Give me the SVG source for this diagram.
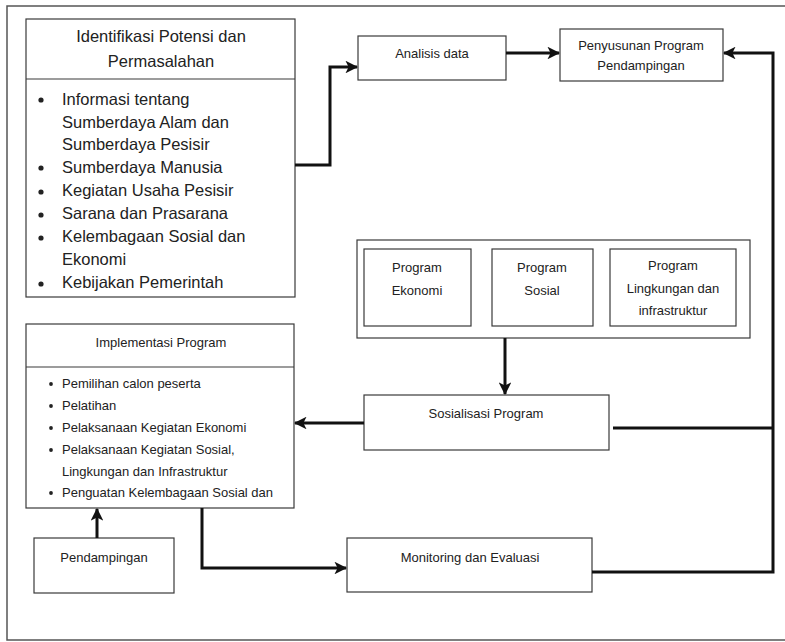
<svg xmlns="http://www.w3.org/2000/svg" width="785" height="642" viewBox="0 0 785 642">
<style>
.box{fill:#fff;stroke:#3a3a3a;stroke-width:1.2}
.t{font-family:"Liberation Sans",Arial,sans-serif;fill:#222;font-size:13px}
.tl{font-family:"Liberation Sans",Arial,sans-serif;fill:#222;font-size:16.5px}
.c{text-anchor:middle}
.con{fill:none;stroke:#111;stroke-width:3;stroke-linejoin:miter}
.dot{fill:#222}
</style>
<defs>
<marker id="ah" viewBox="0 0 12 12" refX="11" refY="6" markerWidth="4.2" markerHeight="4.2" orient="auto" markerUnits="strokeWidth">
<path d="M0,0 L12,6 L0,12 L3,6 Z" fill="#111"/>
</marker>
</defs>
<rect width="785" height="642" fill="#fff"/>
<g id="frame" fill="none" stroke="#555" stroke-width="1.5">
<path d="M785,6 H7 V640 H785"/>
</g>
<g id="identifikasi">
<rect class="box" x="26" y="19" width="269" height="278"/>
<line x1="26" y1="79" x2="295" y2="79" stroke="#3a3a3a" stroke-width="1.2"/>
<text class="tl c" x="161" y="42">Identifikasi Potensi dan</text>
<text class="tl c" x="161" y="67">Permasalahan</text>
<g class="dot">
<circle cx="41" cy="100" r="2.6"/><circle cx="41" cy="168" r="2.6"/><circle cx="41" cy="192" r="2.6"/>
<circle cx="41" cy="215" r="2.6"/><circle cx="41" cy="238" r="2.6"/><circle cx="41" cy="284" r="2.6"/>
</g>
<text class="tl" x="62" y="105">Informasi tentang</text>
<text class="tl" x="62" y="128">Sumberdaya Alam dan</text>
<text class="tl" x="62" y="150">Sumberdaya Pesisir</text>
<text class="tl" x="62" y="173">Sumberdaya Manusia</text>
<text class="tl" x="62" y="196">Kegiatan Usaha Pesisir</text>
<text class="tl" x="62" y="219">Sarana dan Prasarana</text>
<text class="tl" x="62" y="242">Kelembagaan Sosial dan</text>
<text class="tl" x="62" y="265">Ekonomi</text>
<text class="tl" x="62" y="288">Kebijakan Pemerintah</text>
</g>
<g id="analisis">
<rect class="box" x="358" y="36" width="148" height="44"/>
<text class="t c" x="432" y="58">Analisis data</text>
</g>
<g id="penyusunan">
<rect class="box" x="560" y="29" width="163" height="52"/>
<text class="t c" x="641" y="50">Penyusunan Program</text>
<text class="t c" x="641" y="70">Pendampingan</text>
</g>
<g id="program">
<rect class="box" x="357" y="240" width="393" height="98"/>
<rect class="box" x="364" y="249" width="107" height="77"/>
<rect class="box" x="492" y="249" width="101" height="77"/>
<rect class="box" x="610" y="249" width="126" height="77"/>
<text class="t c" x="417" y="272">Program</text>
<text class="t c" x="417" y="295">Ekonomi</text>
<text class="t c" x="542" y="272">Program</text>
<text class="t c" x="542" y="295">Sosial</text>
<text class="t c" x="673" y="270">Program</text>
<text class="t c" x="673" y="293">Lingkungan dan</text>
<text class="t c" x="673" y="315">infrastruktur</text>
</g>
<g id="sosialisasi">
<rect class="box" x="364" y="395" width="245" height="55"/>
<text class="t c" x="486" y="418">Sosialisasi Program</text>
</g>
<g id="implementasi">
<rect class="box" x="26" y="324" width="268" height="184"/>
<line x1="26" y1="367" x2="294" y2="367" stroke="#3a3a3a" stroke-width="1.2"/>
<text class="t c" x="161" y="347">Implementasi Program</text>
<g class="dot">
<circle cx="51" cy="384" r="1.9"/><circle cx="51" cy="406" r="1.9"/><circle cx="51" cy="428" r="1.9"/>
<circle cx="51" cy="450" r="1.9"/><circle cx="51" cy="493" r="1.9"/>
</g>
<text class="t" x="62" y="388">Pemilihan calon peserta</text>
<text class="t" x="62" y="410">Pelatihan</text>
<text class="t" x="62" y="432">Pelaksanaan Kegiatan Ekonomi</text>
<text class="t" x="62" y="454">Pelaksanaan Kegiatan Sosial,</text>
<text class="t" x="62" y="476">Lingkungan dan Infrastruktur</text>
<text class="t" x="62" y="497">Penguatan Kelembagaan Sosial dan</text>
</g>
<g id="pendampingan">
<rect class="box" x="34" y="538" width="140" height="55"/>
<text class="t c" x="104" y="562">Pendampingan</text>
</g>
<g id="monitoring">
<rect class="box" x="347" y="538" width="245" height="54"/>
<text class="t c" x="470" y="562">Monitoring dan Evaluasi</text>
</g>
<g id="connectors">
<path class="con" d="M295,165 H330 V67 H357" marker-end="url(#ah)"/>
<path class="con" d="M506,53 H559" marker-end="url(#ah)"/>
<path class="con" d="M592,572 H773 V53 H724" marker-end="url(#ah)"/>
<path class="con" d="M613,428 H773"/>
<path class="con" d="M505,338 V394" marker-end="url(#ah)"/>
<path class="con" d="M364,423 H295" marker-end="url(#ah)"/>
<path class="con" d="M97,538 V509" marker-end="url(#ah)"/>
<path class="con" d="M202,508 V568 H346" marker-end="url(#ah)"/>
</g>
</svg>
